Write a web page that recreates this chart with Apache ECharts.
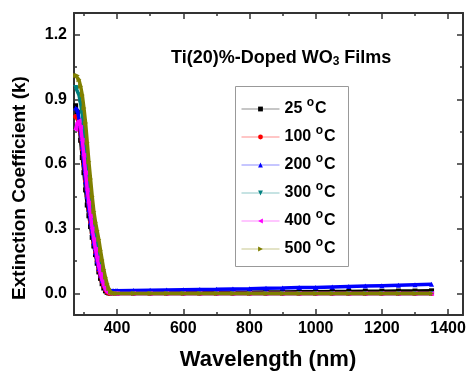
<!DOCTYPE html>
<html>
<head>
<meta charset="utf-8">
<script src="https://cdn.jsdelivr.net/npm/echarts@6/dist/echarts.min.js"></script>
<style>html,body{margin:0;padding:0;background:#fff}#c{width:469px;height:374px}</style>
</head>
<body>
<div id="c"></div>
<script>
const wavelengths = [275,280,285,290,295,300,305,310,315,320,325,330,335,340,345,350,355,360,365,370,375,380,385,390,395,
  400,450,500,550,600,650,700,750,800,850,900,950,1000,1050,1100,1150,1200,1250,1300,1350];
const temps = ['25','100','200','300','400','500'];
const k25  = [0.87,0.84,0.78,0.71,0.63,0.56,0.48,0.41,0.36,0.31,0.26,0.22,0.18,0.14,0.10,0.07,0.045,0.025,0.012,0.005,0.002,0.002,0.002,0.002,0.002,
  0.002,0.003,0.003,0.004,0.004,0.005,0.005,0.006,0.006,0.007,0.007,0.008,0.008,0.009,0.009,0.010,0.010,0.011,0.011,0.012];
const k100 = [0.82,0.82,0.79,0.74,0.67,0.60,0.52,0.45,0.39,0.33,0.28,0.235,0.19,0.15,0.11,0.08,0.055,0.033,0.017,0.007,0.002,0,0,0,0,
  0,0,0,0,0,0,0,0,0,0,0,0,0,0,0,0,0,0,0,0];
const k200 = [0.86,0.85,0.81,0.75,0.68,0.60,0.52,0.45,0.39,0.33,0.28,0.235,0.19,0.15,0.115,0.085,0.06,0.04,0.025,0.016,0.012,0.012,0.012,0.012,0.012,
  0.013,0.014,0.015,0.016,0.017,0.018,0.019,0.021,0.022,0.024,0.025,0.027,0.028,0.030,0.032,0.034,0.036,0.038,0.040,0.042];
const k300 = [0.955,0.95,0.92,0.88,0.83,0.76,0.67,0.58,0.50,0.43,0.37,0.31,0.26,0.21,0.16,0.12,0.085,0.055,0.03,0.015,0.005,0.001,0,0,0,
  0,0,0,0,0,0,0,0,0,0,0,0,0,0,0,0,0,0,0,0];
const k400 = [0.76,0.79,0.80,0.77,0.71,0.64,0.56,0.48,0.42,0.36,0.30,0.25,0.205,0.165,0.125,0.09,0.062,0.038,0.02,0.008,0.002,0,0,0,0,
  0,0,0,0,0,0,0,0,0,0,0,0,0,0,0,0,0,0,0,0];
const k500 = [1.01,1.01,0.99,0.96,0.92,0.86,0.79,0.70,0.61,0.53,0.45,0.38,0.33,0.29,0.25,0.20,0.155,0.11,0.075,0.045,0.022,0.008,0.002,0,0,
  0,0,0,0,0,0,0,0,0,0,0,0,0,0,0,0,0,0,0,0];
const xMajor = [400,600,800,1000,1200,1400];
const xMinor = [300,500,700,900,1100,1300];
const yMajor = [0,0.3,0.6,0.9,1.2];
const yMinor = [0.15,0.45,0.75,1.05];

const allK = [k25,k100,k200,k300,k400,k500];
const colors = ['#000000','#ff0000','#0000ff','#008080','#ff00ff','#808000'];
const symbols = ['rect','circle','triangle','triangle','triangle','triangle'];
const rotates = [0,0,0,180,90,-90];

const chart = echarts.init(document.getElementById('c'));
const axisCol = '#333';
function xAx(pos, ticks, len, labels, line) {
  return {type:'value', position:pos, min:270, max:1445,
    axisLine:{show:line, onZero:false, lineStyle:{color:axisCol, width:2}},
    axisTick:{show:true, inside:true, length:len, customValues:ticks, lineStyle:{color:axisCol, width:1.5}},
    axisLabel:{show:labels, customValues:ticks, color:'#000', fontSize:16, fontWeight:'bold', fontFamily:'Liberation Sans', margin:6,
      formatter:v=>String(v)},
    splitLine:{show:false}};
}
function yAx(pos, ticks, len, labels, line) {
  return {type:'value', position:pos, min:-0.1, max:1.3,
    axisLine:{show:line, onZero:false, lineStyle:{color:axisCol, width:2}},
    axisTick:{show:true, inside:true, length:len, customValues:ticks, lineStyle:{color:axisCol, width:1.5}},
    axisLabel:{show:labels, customValues:ticks, color:'#000', fontSize:16, fontWeight:'bold', fontFamily:'Liberation Sans', margin:7,
      formatter:v=>v.toFixed(1)},
    splitLine:{show:false}};
}

const series = temps.map((t,i)=>({
  name:t+' °C', type:'line', xAxisIndex:0, yAxisIndex:0,
  data: wavelengths.map((w,j)=>[w, allK[i][j]]),
  symbol:symbols[i], symbolSize:5, symbolRotate:rotates[i], showAllSymbol:true,
  lineStyle:{width:3.5, color:colors[i]}, itemStyle:{color:colors[i]},
  animation:false, z:2+i
}));

chart.setOption({
  animation:false,
  grid:{left:74, right:6, top:13, bottom:59},
  xAxis:[xAx('bottom', xMajor, 6, true, true), xAx('bottom', xMinor, 3, false, false),
         xAx('top', xMajor, 6, false, true), xAx('top', xMinor, 3, false, false)],
  yAxis:[yAx('left', yMajor, 6, true, true), yAx('left', yMinor, 3, false, false),
         yAx('right', yMajor, 6, false, true), yAx('right', yMinor, 3, false, false)],
  legend:{orient:'vertical', left:241, top:97, padding:0, itemWidth:38, itemHeight:6, itemGap:4,
    lineStyle:{width:1, opacity:0.45},
    textStyle:{rich:{
      n:{fontSize:16, fontWeight:'bold', fontFamily:'Liberation Sans', color:'#000', lineHeight:28},
      o:{fontSize:12, fontWeight:'bold', fontFamily:'Liberation Sans', color:'#000', lineHeight:4, padding:[0,1,12,0]}
    }},
    formatter: name => { const t = name.split(' ')[0]; return '{n|'+t+' }{o|o}{n|C}'; },
    data: temps.map(t=>t+' °C')
  },
  graphic:[
    {type:'rect', shape:{x:235.5, y:86.5, width:113, height:180}, style:{fill:null, stroke:'#999', lineWidth:1}, z:1},
    {type:'text', x:268, y:360, style:{text:'Wavelength (nm)', font:'bold 22px "Liberation Sans"', fill:'#000', textAlign:'center', textVerticalAlign:'middle'}},
    {type:'text', x:20, y:188, rotation:Math.PI/2, style:{text:'Extinction Coefficient (k)', font:'bold 19px "Liberation Sans"', fill:'#000', textAlign:'center', textVerticalAlign:'middle'}},
    {type:'text', x:171, y:48, style:{text:'{a|Ti(20)%-Doped WO}{s|3}{a| Films}', fill:'#000',
      rich:{a:{fontSize:18, fontWeight:'bold', fontFamily:'Liberation Sans', fill:'#000', lineHeight:20},
            s:{fontSize:12, fontWeight:'bold', fontFamily:'Liberation Sans', fill:'#000', lineHeight:12, verticalAlign:'bottom'}}}}
  ],
  series: series
});
</script>
</body>
</html>
